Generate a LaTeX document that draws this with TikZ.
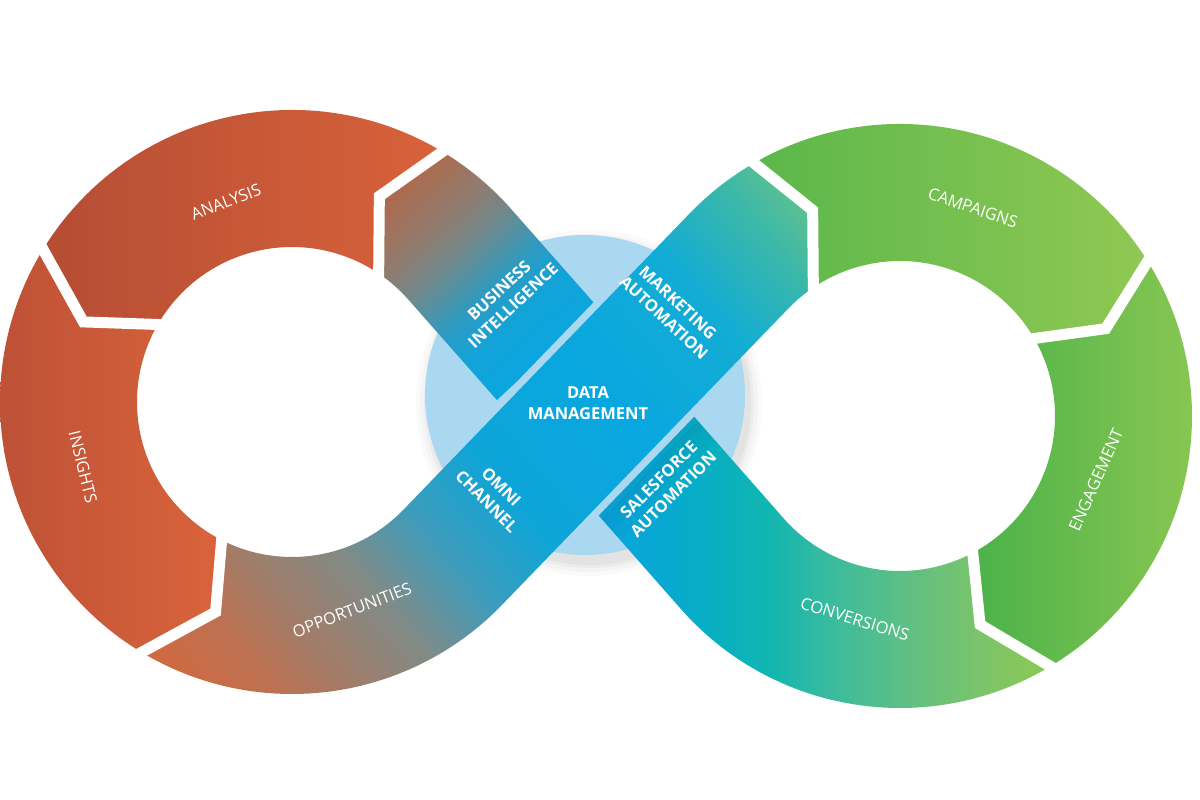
\documentclass[tikz,border=0pt]{standalone}
\usepackage{fontspec}
\setmainfont{Open Sans}
\usetikzlibrary{calc}

\definecolor{ob0}{HTML}{D2683E}
\definecolor{ob1}{HTML}{BC7253}
\definecolor{ob2}{HTML}{A27C68}
\definecolor{ob3}{HTML}{828A86}
\definecolor{ob4}{HTML}{3E9CBB}
\definecolor{ob5}{HTML}{0DA5D8}
\definecolor{ob6}{HTML}{09A7E0}
\definecolor{ob7}{HTML}{12ACD4}
\definecolor{ob8}{HTML}{3CB8A8}
\definecolor{ob9}{HTML}{5EC190}
\pgfdeclarehorizontalshading{overband}{100bp}{color(0bp)=(ob0); color(25bp)=(ob0); color(30.2bp)=(ob1); color(33.6bp)=(ob2); color(38.65bp)=(ob3); color(43.65bp)=(ob4); color(49.3bp)=(ob5); color(57.4bp)=(ob6); color(66.2bp)=(ob7); color(71.8bp)=(ob8); color(75bp)=(ob9); color(100bp)=(ob9)}

\definecolor{bi0}{HTML}{B0694B}
\definecolor{bi1}{HTML}{A47058}
\definecolor{bi2}{HTML}{8F7C70}
\definecolor{bi3}{HTML}{72888A}
\definecolor{bi4}{HTML}{4C93A8}
\definecolor{bi5}{HTML}{2C9BC2}
\definecolor{bi6}{HTML}{12A3D8}
\definecolor{bi7}{HTML}{0AA6DE}
\pgfdeclarehorizontalshading{bishade}{100bp}{color(0bp)=(bi0); color(25bp)=(bi0); color(30bp)=(bi1); color(38.35bp)=(bi2); color(45.4bp)=(bi3); color(51.56bp)=(bi4); color(56.4bp)=(bi5); color(64.8bp)=(bi6); color(75bp)=(bi7); color(100bp)=(bi7)}

\definecolor{cv0}{HTML}{0AA5DE}
\definecolor{cv1}{HTML}{07A8D2}
\definecolor{cv2}{HTML}{08B0BF}
\definecolor{cv3}{HTML}{12B6B0}
\definecolor{cv4}{HTML}{3ABB9E}
\definecolor{cv5}{HTML}{5CBF86}
\definecolor{cv6}{HTML}{7BC46A}
\definecolor{cv7}{HTML}{8DC855}
\pgfdeclarehorizontalshading{cvshade}{100bp}{color(0bp)=(cv0); color(25bp)=(cv0); color(31.9bp)=(cv1); color(38.5bp)=(cv2); color(44.05bp)=(cv3); color(50.7bp)=(cv4); color(58.45bp)=(cv5); color(67.3bp)=(cv6); color(75bp)=(cv7); color(100bp)=(cv7)}

\definecolor{anL}{HTML}{B54D34}
\definecolor{anR}{HTML}{D8623A}
\definecolor{inL}{HTML}{BC5036}
\definecolor{inR}{HTML}{D9643B}
\definecolor{caL}{HTML}{5BB74B}
\definecolor{caR}{HTML}{90C853}
\definecolor{enL}{HTML}{4BB24A}
\definecolor{enR}{HTML}{8CC752}
\definecolor{dmlight}{HTML}{A9D8F0}

\newcommand\gradfill[5]{\begin{scope}\clip #1;\begin{scope}[transform canvas={rotate=#2}]\shade[shading=#5] (#3,-1600) rectangle (#4,1600);\end{scope}\end{scope}}

\begin{document}
\begin{tikzpicture}[x=1pt,y=1pt,
  gapline/.style={white,line width=11pt,line join=miter,miter limit=20},
  lbl/.style={text=white,font=\fontsize{16.5}{19}\selectfont,inner sep=0pt},
  blbl/.style={text=white,font=\fontsize{16.5}{20.5}\selectfont\bfseries,align=center,inner sep=0pt}]
\useasboundingbox (0,0) rectangle (1200,800);
\fill[white] (0,0) rectangle (1200,800);

\def\Ro{292}\def\Ri{155}\def\hw{68.5}\def\gp{76}
\pgfmathsetmacro\Rm{(\Ro+\Ri)/2}
\coordinate (C1) at (292,398);
\coordinate (C2) at (900,384);
\coordinate (M) at (596,391);
\pgfmathsetmacro\gam{atan2(-14,608)}
\pgfmathsetmacro\dd{veclen(608,-14)}
\pgfmathsetmacro\al{asin(2*\Rm/\dd)}
\pgfmathsetmacro\tA{90-\al+\gam}
\pgfmathsetmacro\tB{-90+\al+\gam}
\pgfmathsetmacro\tBB{270+\al+\gam}
\pgfmathsetmacro\tC{270-\al+\gam}
\pgfmathsetmacro\tD{90+\al+\gam}
\pgfmathsetmacro\dO{\al+\gam}
\pgfmathsetmacro\dU{-\al+\gam}
\pgfmathsetmacro\nO{\dO+90}
\pgfmathsetmacro\nU{\dU+90}

% crossing lines
\coordinate (oA1) at ($(M)+(\nO:\gp)$);
\coordinate (oA2) at ($(oA1)+(\dO:100)$);
\coordinate (oB1) at ($(M)-(\nO:\gp)$);
\coordinate (oB2) at ($(oB1)+(\dO:100)$);
\coordinate (uA1) at ($(M)+(\nU:\hw)$);
\coordinate (uA2) at ($(uA1)+(\dU:100)$);
\coordinate (uB1) at ($(M)-(\nU:\hw)$);
\coordinate (uB2) at ($(uB1)+(\dU:100)$);
\coordinate (BIe1) at (intersection of oA1--oA2 and uA1--uA2);
\coordinate (BIe2) at (intersection of oA1--oA2 and uB1--uB2);
\coordinate (SFe1) at (intersection of oB1--oB2 and uA1--uA2);
\coordinate (SFe2) at (intersection of oB1--oB2 and uB1--uB2);

% cut points
\coordinate (BAo) at ($(C1)+(59:\Ro)$);  \coordinate (BAb) at ($(C1)+(67:\Rm)$);  \coordinate (BAi) at ($(C1)+(56:\Ri)$);
\coordinate (AIo) at ($(C1)+(148.5:\Ro)$);\coordinate (AIb) at ($(C1)+(159:\Rm)$); \coordinate (AIi) at ($(C1)+(150:\Ri)$);
\coordinate (IOo) at ($(C1)+(239:\Ro)$); \coordinate (IOb) at ($(C1)+(250:\Rm)$); \coordinate (IOi) at ($(C1)+(243:\Ri)$);
\coordinate (MCo) at ($(C2)+(120:\Ro)$); \coordinate (MCb) at ($(C2)+(113:\Rm)$); \coordinate (MCi) at ($(C2)+(124:\Ri)$);
\coordinate (CEo) at ($(C2)+(32:\Ro)$);  \coordinate (CEb) at ($(C2)+(23:\Rm)$);  \coordinate (CEi) at ($(C2)+(30:\Ri)$);
\coordinate (ECo) at ($(C2)+(-59:\Ro)$); \coordinate (ECb) at ($(C2)+(-69:\Rm)$); \coordinate (ECi) at ($(C2)+(-62:\Ri)$);

% piece outlines
\def\pAN{(BAo) arc[start angle=59,end angle=148.5,radius=\Ro] -- (AIb) -- (AIi) arc[start angle=150,end angle=56,radius=\Ri] -- (BAb) -- cycle}
\def\pIN{(AIo) arc[start angle=148.5,end angle=239,radius=\Ro] -- (IOb) -- (IOi) arc[start angle=243,end angle=150,radius=\Ri] -- (AIb) -- cycle}
\def\pBI{(BIe1) -- ($(C1)+(\tA:\Ro)$) arc[start angle=\tA,end angle=59,radius=\Ro] -- (BAb) -- (BAi) arc[start angle=56,end angle=\tA,radius=\Ri] -- (BIe2) -- cycle}
\def\pOV{(IOo) arc[start angle=239,end angle=\tBB,radius=\Ro] -- ($(C2)+(\tD:\Ri)$) arc[start angle=\tD,end angle=124,radius=\Ri] -- (MCb) -- (MCo) arc[start angle=120,end angle=\tD,radius=\Ro] -- ($(C1)+(\tB:\Ri)$) arc[start angle=\tBB,end angle=243,radius=\Ri] -- (IOb) -- cycle}
\def\pCA{(MCo) arc[start angle=120,end angle=32,radius=\Ro] -- (CEb) -- (CEi) arc[start angle=30,end angle=124,radius=\Ri] -- (MCb) -- cycle}
\def\pEN{(CEo) arc[start angle=32,end angle=-59,radius=\Ro] -- (ECb) -- (ECi) arc[start angle=-62,end angle=30,radius=\Ri] -- (CEb) -- cycle}
\def\pCV{(SFe2) -- ($(C2)+(\tC:\Ro)$) arc[start angle=\tC,end angle=301,radius=\Ro] -- (ECb) -- (ECi) arc[start angle=298,end angle=\tC,radius=\Ri] -- (SFe1) -- cycle}

% data management disc with soft shadow
\foreach \r/\op in {173/0.02,169/0.025,165/0.03,162/0.035}{\fill[black,opacity=\op] (589,397) circle[radius=\r];}
\node[circle,fill=dmlight,minimum size=320pt,inner sep=0pt] (dmdisc) at (585,405) {};

% under band pieces
\gradfill{\pBI}{-47}{-180.6}{46.4}{bishade}
\gradfill{\pCV}{0}{598}{1049.4}{cvshade}
\begin{scope}
  \clip \pCV;
  \foreach \k/\op in {3/0.04,9/0.06,16/0.045,23/0.025,30/0.012}{
    \draw[black,opacity=\op,line width=7pt] ($(M)-(\nO:\gp+\k)+(\dO:-300)$) -- ($(M)-(\nO:\gp+\k)+(\dO:300)$);}
\end{scope}

% ring pieces
\shade[left color=anL,right color=anR] \pAN;
\shade[left color=inL,right color=inR] \pIN;
\shade[left color=caL,right color=caR] \pCA;
\shade[left color=enL,right color=enR] \pEN;

% over band
\gradfill{\pOV}{40}{201.8}{1001.1}{overband}

% white gaps
\foreach \c in {BA,AI,IO,MC,CE,EC}{
  \draw[gapline] ($(\c b)!1.25!(\c o)$) -- (\c b) -- ($(\c b)!1.25!(\c i)$);}

% labels
\node[lbl,rotate=21]  (tAN) at (226,598) {ANALYSIS};
\node[lbl,rotate=-76] (tIN) at (83,333) {INSIGHTS};
\node[lbl,rotate=21]  (tOP) at (352,190) {OPPORTUNITIES};
\node[lbl,rotate=-19] (tCA) at (973,592) {CAMPAIGNS};
\node[lbl,rotate=66]  (tEN) at (1096,320) {ENGAGEMENT};
\node[lbl,rotate=-17] (tCV) at (855,181) {CONVERSIONS};
\node[blbl,rotate=43]  (tBI) at (506,502) {BUSINESS\\INTELLIGENCE};
\node[blbl,rotate=-43] (tMA) at (671,490) {MARKETING\\AUTOMATION};
\node[blbl]            (tDM) at (588,397) {DATA\\MANAGEMENT};
\node[blbl,rotate=-45] (tOC) at (494,306) {OMNI\\CHANNEL};
\node[blbl,rotate=45]  (tSF) at (666,313) {SALESFORCE\\AUTOMATION};
\end{tikzpicture}
\end{document}
